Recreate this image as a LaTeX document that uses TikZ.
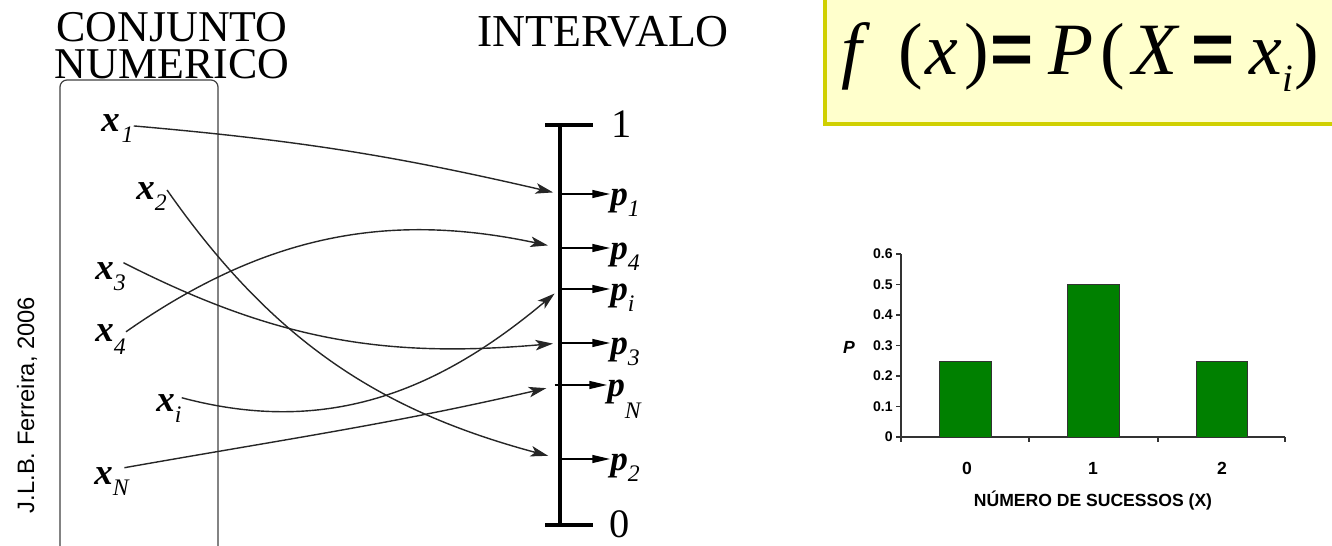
\documentclass[tikz,border=0pt]{standalone}
\usepackage{fontspec}
\setmainfont{Liberation Serif}
\newfontfamily\arialfont{Liberation Sans}
\usetikzlibrary{arrows.meta, calc}
\usepackage{xcolor}
\definecolor{amarelo}{RGB}{255, 255, 204}
\definecolor{oliva}{RGB}{208, 208, 0}
\definecolor{verdebarra}{RGB}{0, 128, 0}
\newcommand{\indice}[2]{\raisebox{-#1}{\fontsize{13.5}{13.5}\selectfont\mdseries\itshape #2}}

\begin{document}
\begin{tikzpicture}[
    x=0.02cm,
    y=0.02cm,
    elem/.style={
        inner sep=0pt,
        font=\fontsize{21}{21}\selectfont\bfseries\itshape
    },
    prob/.style={
        inner sep=0pt,
        font=\fontsize{20}{20}\selectfont\bfseries\itshape
    },
    titulo/.style={
        inner sep=0pt,
        align=center,
        font=\fontsize{25}{21}\selectfont
    },
    ligacao/.style={
        -{Stealth[length=10pt, width=6pt, inset=2.5pt]},
        line width=0.8pt,
        black!85
    },
    marca/.style={
        -{Triangle[length=10pt, width=4.5pt]},
        line width=0.8pt
    },
    eixo/.style={
        line width=0.6pt,
        black!80
    },
    barra/.style={
        draw=black!80,
        line width=0.5pt,
        fill=verdebarra
    },
    rotulo/.style={
        inner sep=0pt,
        font=\arialfont\bfseries\fontsize{8}{8}\selectfont
    }
]

\useasboundingbox (0,0) rectangle (1332,-546);
\clip (0,0) rectangle (1332,-546);

\node[rotate=90, anchor=base, font=\arialfont\fontsize{13.5}{13.5}\selectfont] (autor) at (34,-405)
{J.L.B. Ferreira, 2006};

\node[titulo, anchor=north] (conjunto) at (172,-12)
{CONJUNTO\\NUMERICO};

\node[titulo, anchor=base, font=\fontsize{26}{26}\selectfont] (intervalo) at (603,-47)
{INTERVALO};

\draw[rounded corners=4pt, line width=0.7pt, black!75] (60,-80) rectangle (218,-560);

\node[elem, anchor=base west] (x1) at (101,-132) {x\kern1pt\indice{5.7pt}{1}};
\node[elem, anchor=base west] (x2) at (136,-200) {x\indice{5.7pt}{2}};
\node[elem, anchor=base west] (x3) at (95,-280) {x\indice{5.7pt}{3}};
\node[elem, anchor=base west] (x4) at (95,-342) {x\indice{7pt}{4}};
\node[elem, anchor=base west] (xi) at (156,-412) {x\indice{5.7pt}{i}};
\node[elem, anchor=base west] (xN) at (94,-485) {x\indice{5.7pt}{N}};

\coordinate (topo) at (560,-125);
\coordinate (fundo) at (560,-525);
\draw[line width=2.3pt] (topo) -- (fundo);
\draw[line width=2.3pt] (545,-125) -- (593,-125);
\draw[line width=2.3pt] (545,-525) -- (593,-525);

\node[anchor=west, inner sep=0pt, font=\fontsize{23}{23}\selectfont] (um) at (611,-124) {1};
\node[anchor=west, inner sep=0pt, font=\fontsize{23}{23}\selectfont] (zero) at (609,-524) {0};

\coordinate (c1) at (560,-194);
\coordinate (c4) at (560,-248);
\coordinate (ci) at (560,-289);
\coordinate (c3) at (560,-343);
\coordinate (cN) at (560,-385);
\coordinate (c2) at (560,-459);

\node[prob, anchor=base west] (p1) at (610,-206) {p\indice{5.7pt}{1}};
\node[prob, anchor=base west] (p4) at (610,-260) {p\indice{5.7pt}{4}};
\node[prob, anchor=base west] (pi) at (610,-301) {p\indice{5.7pt}{i}};
\node[prob, anchor=base west] (p3) at (610,-355) {p\indice{5.7pt}{3}};
\node[prob, anchor=base west] (pN) at (607,-397) {p\indice{12pt}{N}};
\node[prob, anchor=base west] (p2) at (610,-471) {p\indice{5.7pt}{2}};

\draw[marca] (c1) -- (c1 -| p1.west);
\draw[marca] (c4) -- (c4 -| p4.west);
\draw[marca] (ci) -- (ci -| pi.west);
\draw[marca] (c3) -- (c3 -| p3.west);
\draw[marca] ([xshift=-3pt]cN) -- (cN -| pN.west);
\draw[marca] (c2) -- (c2 -| p2.west);

\draw[ligacao, shorten >=4pt] (x1.9) to[out=-5, in=167] (c1);
\draw[ligacao, shorten >=7pt] (x2.23) to[out=-55, in=165] (c2);
\draw[ligacao, shorten >=4pt] (x3.47) to[out=-27, in=-175] (c3);
\draw[ligacao, shorten >=7pt] (x4.27) to[out=35, in=168] (c4);
\draw[ligacao, shorten >=4pt] (xi.40) to[out=-15, in=-140] (ci);
\draw[ligacao, shorten >=8pt] (xN.47) to[out=10, in=-167] (cN);

\draw[line width=2.3pt, draw=oliva, fill=amarelo] (825,20) rectangle (1350,-124);

\node[anchor=base west, inner sep=0pt, font=\fontsize{42}{42}\selectfont\itshape] (formula) at (841,-75)
{f\hspace{20.6pt}{\upshape(}\hspace{1.9pt}x\hspace{3.5pt}{\upshape)}\hspace{0.7pt}{\arialfont\upshape\bfseries=}\hspace{8.3pt}P\hspace{3.8pt}{\upshape(}\hspace{4.7pt}X\hspace{7.8pt}{\arialfont\upshape\bfseries=}\hspace{8.3pt}x\raisebox{-9.6pt}{\fontsize{22}{22}\selectfont i}\hspace{1.2pt}{\upshape)}};

\coordinate (origem) at (901,-437);
\draw[eixo] (901,-254) -- (origem) -- (1285,-437);
\foreach \k/\v in {0/0, 1/0.1, 2/0.2, 3/0.3, 4/0.4, 5/0.5, 6/0.6} {
    \draw[eixo] (896,{-437+30.5*\k}) -- (901,{-437+30.5*\k});
    \node[rotulo, anchor=east] (y\k) at (893,{-437+30.5*\k}) {\v};
}
\foreach \xt in {901, 1029, 1158, 1285} {
    \draw[eixo] (\xt,-437) -- (\xt,-442);
}

\draw[barra] (939,-437) rectangle (991,-361);
\draw[barra] (1067,-437) rectangle (1119,-284.5);
\draw[barra] (1196,-437) rectangle (1247,-361);

\node[rotulo, font=\arialfont\bfseries\fontsize{10}{10}\selectfont] (n0) at (967,-468) {0};
\node[rotulo, font=\arialfont\bfseries\fontsize{10}{10}\selectfont] (n1) at (1093,-468) {1};
\node[rotulo, font=\arialfont\bfseries\fontsize{10}{10}\selectfont] (n2) at (1222,-468) {2};

\node[rotulo, font=\arialfont\bfseries\fontsize{10}{10}\selectfont] (eixox) at (1093,-501)
{NÚMERO DE SUCESSOS (X)};

\node[rotulo, font=\arialfont\bfseries\itshape\fontsize{10}{10}\selectfont] (eixop) at (849,-347)
{P};

\end{tikzpicture}
\end{document}
